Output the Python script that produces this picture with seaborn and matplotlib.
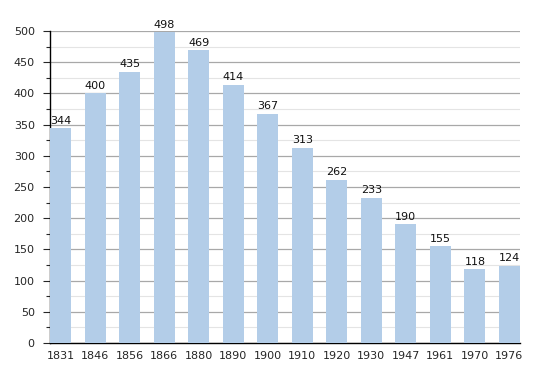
import matplotlib
matplotlib.use("Agg")
import matplotlib.pyplot as plt
import seaborn as sns
import pandas as pd
from matplotlib.ticker import MultipleLocator

years = ["1831", "1846", "1856", "1866", "1880", "1890", "1900",
         "1910", "1920", "1930", "1947", "1961", "1970", "1976"]
population = [344, 400, 435, 498, 469, 414, 367, 313, 262, 233, 190, 155, 118, 124]

df = pd.DataFrame({"year": years, "pop": population})

sns.set_style("white")
plt.rcParams['font.family'] = ['DejaVu Sans']

fig = plt.figure(figsize=(5.5, 3.73), dpi=100)
ax = fig.add_axes([0.0909, 0.0804, 0.8545, 0.8365])

sns.barplot(data=df, x="year", y="pop", color="#b3cde8", width=0.61,
            saturation=1, linewidth=0, edgecolor="none", ax=ax, zorder=3)

for i, v in enumerate(population):
    ax.text(i, v + 4, str(v), ha="center", va="bottom", fontsize=8, color="#111111", zorder=4)

ax.set_xlim(-0.305, 13.305)
ax.set_ylim(0, 500)
ax.yaxis.set_major_locator(MultipleLocator(50))
ax.yaxis.set_minor_locator(MultipleLocator(25))
ax.grid(which="major", axis="y", color="#a8a8a8", linewidth=0.9, zorder=0)
ax.grid(which="minor", axis="y", color="#e4e4e4", linewidth=0.8, zorder=0)
ax.set_axisbelow(True)

ax.set_xlabel("")
ax.set_ylabel("")
for s in ["top", "right"]:
    ax.spines[s].set_visible(False)
ax.spines["left"].set_color("black")
ax.spines["bottom"].set_color("black")
ax.spines["left"].set_linewidth(1)
ax.spines["bottom"].set_linewidth(1)

ax.tick_params(axis="y", which="major", left=True, length=5, width=0.8, labelsize=8, pad=6)
ax.tick_params(axis="y", which="minor", left=True, length=3, width=0.8)
ax.tick_params(axis="x", bottom=False, labelsize=8, pad=2)

fig.savefig("out.png", dpi=100)
